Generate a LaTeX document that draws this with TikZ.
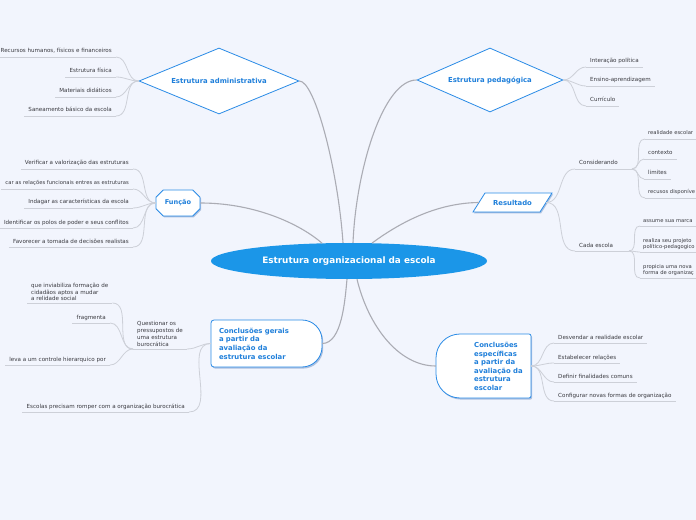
\documentclass[tikz,border=0pt]{standalone}
\usepackage{fontspec}
\setmainfont{DejaVu Sans}
\usetikzlibrary{shapes.geometric,shapes.misc,shadows,calc}
\definecolor{bg}{HTML}{F2F5FD}
\definecolor{mblue}{HTML}{1B96E8}
\definecolor{bblue}{HTML}{2A8BE6}
\definecolor{tblue}{HTML}{1F7FDA}
\definecolor{cgray}{HTML}{ABACB4}
\definecolor{lgray}{HTML}{CDD0D8}
\definecolor{ltext}{HTML}{3A3A40}
\definecolor{shade}{HTML}{2A5FA8}
\begin{document}
\begin{tikzpicture}[x=1bp,y=1bp,
  mainnode/.style={ellipse, fill=mblue, minimum width=276bp, minimum height=36bp, inner sep=0pt, text=white, font=\fontsize{8.9}{10}\selectfont\bfseries},
  dia/.style={diamond, draw=bblue, fill=white, line width=0.8bp, inner sep=0pt, text=tblue, font=\fontsize{6.9}{8}\selectfont\bfseries},
  btxt/.style={text=tblue, font=\fontsize{6.9}{8.7}\selectfont\bfseries, align=left},
  lconn/.style={draw=lgray, line width=0.8bp},
  conn/.style={draw=cgray, line width=1.1bp},
  boxline/.style={draw=bblue, fill=white, line width=0.8bp},
  shadefill/.style={fill=shade, opacity=0.35},
  leaf/.style={inner xsep=4bp, inner ysep=2.3bp, text height=4.3bp, text depth=1.5bp, text=ltext, font=\fontsize{5.6}{6.6}\selectfont,
    append after command={(\tikzlastnode.south west) edge[lconn] (\tikzlastnode.south east)}},
  mleaf/.style={inner xsep=4bp, inner ysep=2bp, text=ltext, font=\fontsize{5.6}{6.6}\selectfont, align=left,
    append after command={(\tikzlastnode.south west) edge[lconn] (\tikzlastnode.south east)}},
  edgefont/.style={font=\fontsize{5.25}{6.6}\selectfont, inner xsep=3bp}
]
\useasboundingbox (0,0) rectangle (696,-520);
\clip (0,0) rectangle (696,-520);
\fill[bg] (0,0) rectangle (696,-520);

% ---------- manual shapes (shadows + outlines) ----------
% Conclusoes gerais
\begin{scope}[shift={(1.2,-1.6)}]
\fill[shadefill] (214,-320) -- (302,-320) .. controls (313,-320) and (322,-329) .. (322,-340) -- (322,-347) .. controls (322,-358) and (313,-367) .. (302,-367) -- (214,-367) .. controls (212.3,-367) and (211,-365.7) .. (211,-364) -- (211,-323) .. controls (211,-321.3) and (212.3,-320) .. (214,-320) -- cycle;
\end{scope}
\path[boxline] (214,-320) -- (302,-320) .. controls (313,-320) and (322,-329) .. (322,-340) -- (322,-347) .. controls (322,-358) and (313,-367) .. (302,-367) -- (214,-367) .. controls (212.3,-367) and (211,-365.7) .. (211,-364) -- (211,-323) .. controls (211,-321.3) and (212.3,-320) .. (214,-320) -- cycle;
% Conclusoes especificas
\begin{scope}[shift={(1.2,-1.6)}]
\fill[shadefill] (460,-334) -- (529,-334) .. controls (530.1,-334) and (531,-334.9) .. (531,-336) -- (531,-396) .. controls (531,-397.1) and (530.1,-398) .. (529,-398) -- (460,-398) .. controls (446.7,-398) and (436,-387.3) .. (436,-374) -- (436,-358) .. controls (436,-344.7) and (446.7,-334) .. (460,-334) -- cycle;
\end{scope}
\path[boxline] (460,-334) -- (529,-334) .. controls (530.1,-334) and (531,-334.9) .. (531,-336) -- (531,-396) .. controls (531,-397.1) and (530.1,-398) .. (529,-398) -- (460,-398) .. controls (446.7,-398) and (436,-387.3) .. (436,-374) -- (436,-358) .. controls (436,-344.7) and (446.7,-334) .. (460,-334) -- cycle;
% Resultado parallelogram
\fill[shadefill] (474,-213.5) -- (541,-213.5) -- (553,-194.5) -- (486,-194.5) -- cycle;
\path[boxline] (473,-212) -- (540,-212) -- (552,-193) -- (485,-193) -- cycle;

% ---------- main nodes ----------
\node[mainnode] (main) at (349,-261) {Estrutura organizacional da escola};
\node[dia, aspect=2.42, minimum width=160bp, minimum height=66bp] (ea) at (219,-81) {Estrutura administrativa};
\node[dia, aspect=2.28, minimum width=146bp, minimum height=64bp] (ep) at (490,-80) {Estrutura pedagógica};
\node[chamfered rectangle, chamfered rectangle xsep=5bp, chamfered rectangle ysep=4bp, draw=bblue, fill=white, line width=0.8bp,
      minimum width=44bp, minimum height=26bp, inner sep=0pt, text=tblue, font=\fontsize{6.6}{7.5}\selectfont\bfseries,
      drop shadow={shadow xshift=1bp, shadow yshift=-1.3bp, fill=shade, opacity=0.35}] (fn) at (178,-203) {Função};
\node[minimum width=67bp, minimum height=19bp, inner sep=0pt, text=tblue, font=\fontsize{6.9}{8}\selectfont\bfseries] (res) at (512.5,-202.5) {Resultado};
\node[btxt, minimum width=111bp, minimum height=47bp, text width=95bp, inner xsep=8bp, inner ysep=0pt] (cg) at (266.5,-343.5)
  {Conclusões gerais\\a partir da\\avaliação da\\estrutura escolar};
\node[minimum width=95bp, minimum height=64bp, inner sep=0pt] (ce) at (483.5,-366) {};
\node[btxt, anchor=west, inner sep=0pt, font=\fontsize{6.9}{8.6}\selectfont\bfseries] (cet) at (474,-366.5)
  {Conclusões\\específicas\\a partir da\\avaliação da\\estrutura\\escolar};

% ---------- leaves: Estrutura administrativa ----------
\node[leaf, anchor=south east] (a1) at (116,-57) {Recursos humanos, físicos e financeiros};
\node[leaf, anchor=south east] (a2) at (116,-77) {Estrutura física};
\node[leaf, anchor=south east] (a3) at (116,-97) {Materiais didáticos};
\node[leaf, anchor=south east] (a4) at (116,-116) {Saneamento básico da escola};
% ---------- leaves: Funcao ----------
\node[leaf, anchor=south east] (f1) at (133,-169) {Verificar a valorização das estruturas};
\node[leaf, anchor=south east, font=\fontsize{5.3}{6.6}\selectfont] (f2) at (133,-189) {car as relações funcionais entres as estruturas};
\node[leaf, anchor=south east] (f3) at (133,-208) {Indagar as características da escola};
\node[leaf, anchor=south east] (f4) at (133,-228) {Identificar os polos de poder e seus conflitos};
\node[leaf, anchor=south east] (f5) at (133,-247) {Favorecer a tomada de decisões realistas};
% ---------- leaves: Estrutura pedagogica ----------
\node[leaf, anchor=south west] (p1) at (586,-67) {Interação política};
\node[leaf, anchor=south west] (p2) at (586,-86) {Ensino-aprendizagem};
\node[leaf, anchor=south west] (p3) at (586,-106) {Currículo};
% ---------- leaves: Resultado ----------
\node[leaf, anchor=south west] (cons) at (575,-169) {Considerando};
\coordinate (consJ) at (632,-169);
\node[leaf, edgefont, anchor=south west] (r1) at (645,-139) {realidade escolar};
\node[leaf, anchor=south west] (r2) at (644,-159) {contexto};
\node[leaf, anchor=south west] (r3) at (644,-179) {limites};
\node[leaf, edgefont, anchor=south west] (r4) at (645,-198) {recusos disponíve};
\node[leaf, anchor=south west] (cada) at (575,-251) {Cada escola};
\coordinate (cadaJ) at (629,-251);
\node[leaf, edgefont, anchor=south west] (s1) at (640,-226) {assume sua marca};
\node[mleaf, edgefont, anchor=south west] (s2) at (640,-252) {realiza seu projeto\\político-pedagogico};
\node[mleaf, edgefont, anchor=south west] (s3) at (640,-278) {propicia uma nova\\forma de organizaç};
% ---------- leaves: Conclusoes especificas ----------
\node[leaf, anchor=south west] (e1) at (554,-343) {Desvendar a realidade escolar};
\node[leaf, anchor=south west] (e2) at (554,-363) {Estabelecer relações};
\node[leaf, anchor=south west] (e3) at (554,-382) {Definir finalidades comuns};
\node[leaf, anchor=south west] (e4) at (554,-401) {Configurar novas formas de organização};
% ---------- leaves: Conclusoes gerais ----------
\node[mleaf, anchor=south west, font=\fontsize{5.6}{7}\selectfont] (q) at (133,-349) {Questionar os\\pressupostos de\\uma estrutura\\burocrática};
\node[mleaf, anchor=south west] (g1) at (27,-303) {que inviabiliza formação de\\cidadãos aptos a mudar\\a relidade social};
\node[leaf, anchor=south east] (g2) at (110,-323) {fragmenta};
\node[leaf, anchor=south east] (g3) at (110,-365) {leva a um controle hierarquico por};
\node[leaf, anchor=south east] (h) at (189,-412) {Escolas precisam romper com a organização burocrática};

% ---------- main connectors ----------
\draw[conn] ($(main.north)+(-6,0)$) .. controls (338,-170) and (315,-81) .. (ea.east);
\draw[conn] ($(main.north)+(4,0)$) .. controls (356,-170) and (383,-80) .. (ep.west);
\draw[conn] ($(main.north)+(-27,-0.4)$) .. controls (300,-224) and (255,-203) .. (fn.east);
\draw[conn] ($(main.north)+(23,-0.3)$) .. controls (398,-224) and (435,-203) .. (res.west);
\draw[conn] ($(main.south)+(-2,0)$) .. controls (345,-300) and (342,-343.5) .. (cg.east);
\draw[conn] ($(main.south)+(8,0)$) .. controls (368,-325) and (398,-366) .. (ce.west);

% ---------- leaf connectors ----------
\foreach \n in {a1,a2,a3,a4} \draw[lconn] (ea.west) to[out=180,in=0] (\n.south east);
\foreach \n in {f1,f2,f3,f4,f5} \draw[lconn] (fn.west) to[out=180,in=0] (\n.south east);
\foreach \n in {p1,p2,p3} \draw[lconn] (ep.east) to[out=0,in=180] (\n.south west);
\foreach \n in {cons,cada} \draw[lconn] (res.east) to[out=0,in=180] (\n.south west);
\draw[lconn] (cons.south east) -- (consJ);
\draw[lconn] (cada.south east) -- (cadaJ);
\foreach \n in {r1,r2,r3,r4} \draw[lconn] (consJ) to[out=0,in=180] (\n.south west);
\foreach \n in {s1,s2,s3} \draw[lconn] (cadaJ) to[out=0,in=180] (\n.south west);
\foreach \n in {e1,e2,e3,e4} \draw[lconn] (ce.east) to[out=0,in=180] (\n.south west);
\foreach \n in {q,h} \draw[lconn] (cg.west) to[out=180,in=0] (\n.south east);
\foreach \n in {g1,g2,g3} \draw[lconn] (q.south west) to[out=180,in=0] (\n.south east);
\end{tikzpicture}
\end{document}
